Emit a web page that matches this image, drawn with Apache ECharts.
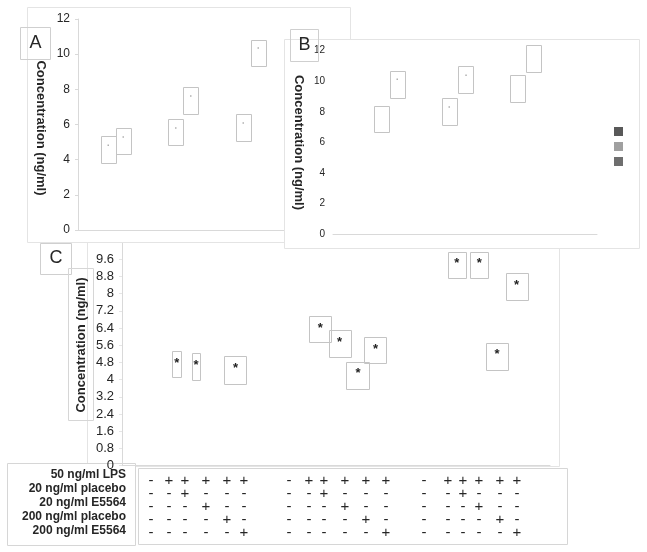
<!DOCTYPE html>
<html>
<head>
<meta charset="utf-8">
<title>Concentration (ng/ml) panels A-C</title>
<script src="https://cdn.jsdelivr.net/npm/echarts@6/dist/echarts.min.js"></script>
<style>
  html, body { margin: 0; padding: 0; background: #fff; }
  #chart { width: 647px; height: 552px; }
</style>
</head>
<body>
<div id="chart"></div>
<script>
// Panel A: slot position, box low / high edge, mean dot (ng/ml)
var A_POS = [2, 3, 6.5, 7.5, 11, 12];
var A_LOW = [3.77, 4.30, 4.81, 6.57, 5.06, 9.30];
var A_HIGH = [5.32, 5.80, 6.29, 8.11, 6.57, 10.78];
var A_MEAN = [4.83, 5.30, 5.81, 7.63, 6.10, 10.36];

// Panel B
var B_POS = [3, 4, 7.25, 8.3, 11.5, 12.55];
var B_LOW = [6.67, 8.95, 7.12, 9.25, 8.65, 10.59];
var B_HIGH = [8.37, 10.69, 8.89, 11.00, 10.39, 12.37];
var B_MEAN = [null, 10.15, 8.34, 10.41, null, null];
var B_LEGEND = ['Series 1', 'Series 2', 'Series 3'];

// Panel C (every box carries a star)
var C_POS = [2.81, 3.81, 5.83, 10.19, 11.18, 12.13, 13.03, 17.21, 18.37, 19.28, 20.28];
var C_LOW = [4.11, 3.99, 3.81, 5.74, 5.06, 3.58, 4.74, 8.72, 8.72, 4.45, 7.69];
var C_HIGH = [5.32, 5.23, 5.09, 6.96, 6.30, 4.84, 5.97, 9.95, 9.95, 5.71, 8.95];

// treatment table under panel C (3 groups x 6 columns)
var ROW_LABELS = ['50 ng/ml LPS', '20 ng/ml placebo', '20 ng/ml E5564', '200 ng/ml placebo', '200 ng/ml E5564'];
var ROW_LPS      = ['-','+','+','+','+','+', '-','+','+','+','+','+', '-','+','+','+','+','+'];
var ROW_PLA20    = ['-','-','+','-','-','-', '-','-','+','-','-','-', '-','-','+','-','-','-'];
var ROW_E20      = ['-','-','-','+','-','-', '-','-','-','+','-','-', '-','-','-','+','-','-'];
var ROW_PLA200   = ['-','-','-','-','+','-', '-','-','-','-','+','-', '-','-','-','-','+','-'];
var ROW_E200     = ['-','-','-','-','-','+', '-','-','-','-','-','+', '-','-','-','-','-','+'];
var TABLE_ROWS = [ROW_LPS, ROW_PLA20, ROW_E20, ROW_PLA200, ROW_E200];

// layout / style
var FONT = "'Liberation Sans', Arial, sans-serif";
var TXT = '#262626';
var AXIS_C = '#d9d9d9';
var BOX_C = '#c4c4c4';
var PANEL_C = '#e4e4e4';
var LEGEND_COLORS = ['#595959', '#a0a0a0', '#6e6e6e'];
var C_BOX_PX = [9, 8, 22, 22, 22, 23, 22, 18, 18, 22, 22];
var TABLE_COL_X = [151, 169, 185, 206, 227, 244, 289, 309, 324, 345, 366, 386, 424, 448, 463, 479, 500, 517];
var TABLE_ROW_Y = [481, 494, 507, 519.5, 532.5];
var LABEL_ROW_Y = [475, 489, 503, 517, 531];

function toRows(pos, low, high, mean) {
  return pos.map(function (p, i) {
    return [p, low[i], high[i], mean ? mean[i] : null];
  });
}

function boxRenderer(width, star) {
  return function (params, api) {
    var x = api.value(0);
    var top = api.coord([x, api.value(2)]);
    var bot = api.coord([x, api.value(1)]);
    var w = Array.isArray(width) ? width[params.dataIndex] : width;
    var kids = [{
      type: 'rect',
      shape: { x: Math.round(top[0] - w / 2) + 0.5, y: Math.round(top[1]) + 0.5, width: w, height: Math.round(bot[1] - top[1]) },
      style: { fill: 'none', stroke: BOX_C, lineWidth: 1 }
    }];
    if (star) {
      kids.push({
        type: 'text',
        style: {
          text: '*', x: top[0], y: top[1] + 12,
          align: 'center', textAlign: 'center', verticalAlign: 'middle', textVerticalAlign: 'middle',
          font: 'bold 13px ' + FONT, fill: '#222'
        }
      });
    } else {
      var m = api.value(3);
      if (!isNaN(m)) {
        var mp = api.coord([x, m]);
        kids.push({ type: 'rect', shape: { x: mp[0] - 0.5, y: mp[1] - 0.5, width: 1.5, height: 1.5 }, style: { fill: '#b0b0b0' } });
      }
    }
    return { type: 'group', children: kids };
  };
}

function hiddenX(grid, max, z) {
  return {
    gridIndex: grid, type: 'value', min: 0, max: max, z: z,
    axisLine: { show: true, lineStyle: { color: AXIS_C } },
    axisTick: { show: false }, axisLabel: { show: false }, splitLine: { show: false }
  };
}

function box(x, y, w, h, z, stroke, fill) {
  return { type: 'rect', z: z, shape: { x: x + 0.5, y: y + 0.5, width: w, height: h },
    style: { fill: fill || 'none', stroke: stroke, lineWidth: 1 } };
}

function txt(s, x, y, font, z, opts) {
  var el = { type: 'text', z: z, x: x, y: y,
    style: { text: s, x: 0, y: 0, font: font, fill: TXT,
      textAlign: 'center', align: 'center', textVerticalAlign: 'middle', verticalAlign: 'middle' } };
  if (opts && opts.rotation) el.rotation = opts.rotation;
  if (opts && opts.align) { el.style.textAlign = opts.align; el.style.align = opts.align; }
  return el;
}

var graphics = [
  // panel frames, C under A under B
  box(87, 236, 472, 230, 0, PANEL_C, '#fff'),
  box(27, 7, 323, 235, 10, PANEL_C, '#fff'),
  box(284, 39, 355, 209, 20, PANEL_C, '#fff'),
  // panel letters
  box(20, 27, 30, 32, 13, '#cfcfcf'), txt('A', 35.5, 43.5, '18px ' + FONT, 13),
  box(290, 29, 28, 32, 23, '#cfcfcf'), txt('B', 304.5, 45.5, '18px ' + FONT, 23),
  box(40, 243, 31, 31, 3, '#cfcfcf'), txt('C', 56, 258.5, '18px ' + FONT, 3),
  // y titles
  txt('Concentration (ng/ml)', 41, 128, 'bold 13px ' + FONT, 13, { rotation: -Math.PI / 2 }),
  txt('Concentration (ng/ml)', 299, 142.5, 'bold 13px ' + FONT, 23, { rotation: -Math.PI / 2 }),
  box(68, 268, 25, 152, 3, '#d6d6d6'),
  txt('Concentration (ng/ml)', 81, 345, 'bold 13px ' + FONT, 3, { rotation: Math.PI / 2 }),
  // table frames
  box(7, 463, 128, 82, 0.5, '#d6d6d6', '#fff'),
  box(138, 468, 429, 76, 0.5, '#d6d6d6', '#fff')
];

ROW_LABELS.forEach(function (lab, r) {
  graphics.push(txt(lab, 126, LABEL_ROW_Y[r], 'bold 12px ' + FONT, 31, { align: 'right' }));
});
TABLE_ROWS.forEach(function (row, r) {
  row.forEach(function (s, c) {
    graphics.push(txt(s, TABLE_COL_X[c], TABLE_ROW_Y[r], '15px ' + FONT, 31));
  });
});

var chart = echarts.init(document.getElementById('chart'), null, { renderer: 'canvas' });

chart.setOption({
  animation: false,
  textStyle: { fontFamily: FONT },
  grid: [
    { left: 78, top: 19, width: 210, height: 211 },
    { left: 333, top: 50.7, width: 264, height: 183.6 },
    { left: 122, top: 242, width: 428, height: 223.7 }
  ],
  xAxis: [hiddenX(0, 14, 11), hiddenX(1, 16.5, 21), hiddenX(2, 22, 1)],
  yAxis: [
    {
      gridIndex: 0, type: 'value', min: 0, max: 12, interval: 2, z: 11,
      axisLine: { show: true, lineStyle: { color: AXIS_C } },
      axisTick: { show: true, length: 3, lineStyle: { color: AXIS_C } },
      axisLabel: { fontSize: 12, color: TXT, margin: 8 },
      splitLine: { show: false }
    },
    {
      gridIndex: 1, type: 'value', min: 0, max: 12, interval: 2, z: 21,
      axisLine: { show: false }, axisTick: { show: false },
      axisLabel: { fontSize: 10, color: TXT, margin: 8 },
      splitLine: { show: false }
    },
    {
      gridIndex: 2, type: 'value', min: 0, max: 10.4, interval: 0.8, z: 1,
      axisLine: { show: true, lineStyle: { color: AXIS_C } },
      axisTick: { show: true, length: 3, lineStyle: { color: '#e6e6e6' } },
      axisLabel: { fontSize: 13, color: TXT, margin: 8, showMaxLabel: false },
      splitLine: { show: false }
    }
  ],
  legend: {
    data: B_LEGEND, orient: 'vertical', left: 609, top: 122,
    icon: 'rect', itemWidth: 9, itemHeight: 9, itemGap: 6,
    selectedMode: false, z: 23,
    formatter: function () { return ''; }
  },
  graphic: graphics,
  series: [
    {
      type: 'custom', xAxisIndex: 0, yAxisIndex: 0, z: 12,
      renderItem: boxRenderer(15, false),
      encode: { x: 0, y: [1, 2] },
      data: toRows(A_POS, A_LOW, A_HIGH, A_MEAN)
    },
    {
      type: 'custom', xAxisIndex: 1, yAxisIndex: 1, z: 22,
      renderItem: boxRenderer(15, false),
      encode: { x: 0, y: [1, 2] },
      data: toRows(B_POS, B_LOW, B_HIGH, B_MEAN)
    },
    {
      type: 'custom', xAxisIndex: 2, yAxisIndex: 2, z: 2,
      renderItem: boxRenderer(C_BOX_PX, true),
      encode: { x: 0, y: [1, 2] },
      data: toRows(C_POS, C_LOW, C_HIGH, null)
    }
  ].concat(B_LEGEND.map(function (name, i) {
    return {
      type: 'bar', name: name, xAxisIndex: 1, yAxisIndex: 1, z: 22,
      itemStyle: { color: LEGEND_COLORS[i] }, data: []
    };
  }))
});
</script>
</body>
</html>
